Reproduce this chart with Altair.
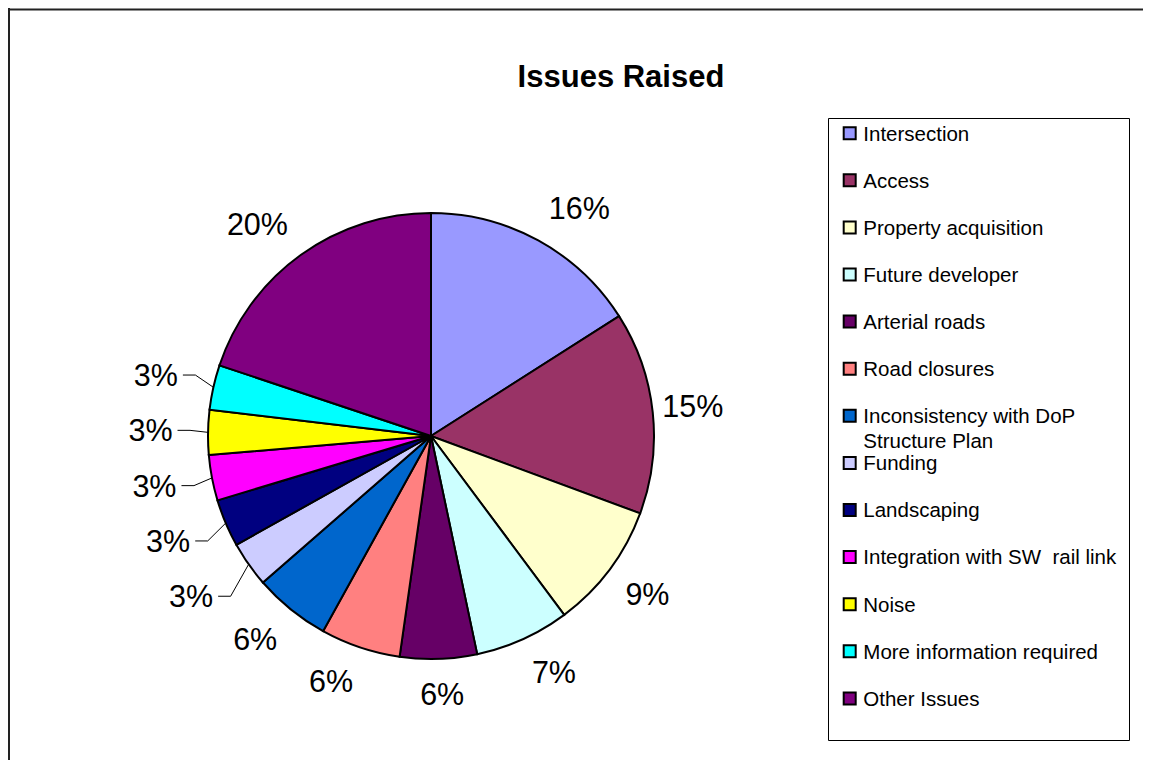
import math
import textwrap
import altair as alt
import pandas as pd

# ---------------- data ----------------
title_text = "Issues Raised"
categories = [
    "Intersection",
    "Access",
    "Property acquisition",
    "Future developer",
    "Arterial roads",
    "Road closures",
    "Inconsistency with DoP Structure Plan",
    "Funding",
    "Landscaping",
    "Integration with SW  rail link",
    "Noise",
    "More information required",
    "Other Issues",
]
shares = [15.97, 14.67, 9.17, 6.87, 5.57, 5.79, 5.55, 3.30, 3.45, 3.30, 3.24, 3.25, 19.87]
colors = [
    "#9999FF", "#993366", "#FFFFCC", "#CCFFFF", "#660066", "#FF8080", "#0066CC",
    "#CCCCFF", "#000080", "#FF00FF", "#FFFF00", "#00FFFF", "#800080",
]

# ---------------- layout constants (pixels inside the plot area) ----------------
W, H = 1135, 752
CX, CY = 423.0, 428.0        # pie centre
R = 223.0                    # pie radius
FONT = "Liberation Sans, Arial, Helvetica, sans-serif"
LABEL_FS = 30.5
LEGEND_FS = 20.5
LAB_R = 245.0                # anchor radius of ordinary labels
SMALL_R = 270.0              # natural radius of crowded labels
SMALL_GAP = 55.3             # vertical spacing of crowded labels
HALF_H = 13.0

xs = alt.Scale(domain=[-CX / R, (W - CX) / R], nice=False, zero=False)
ys = alt.Scale(domain=[-(H - CY) / R, CY / R], nice=False, zero=False)

def text_w(s, fs):
    widths = {"%": 0.889}
    return sum(widths.get(ch, 0.556) for ch in s) * fs

def clamp(v):
    return max(-1.0, min(1.0, v))

total = sum(shares)
rows = []
cum = 0.0
for i, (c, s) in enumerate(zip(categories, shares)):
    mid = (cum + s / 2) / total * 2 * math.pi
    cum += s
    rows.append(dict(idx=i, category=c, share=s, mid=mid,
                     pct=f"{round(s / total * 100)}%",
                     small=(s / total) < 0.04))
df = pd.DataFrame(rows)

# ordinary labels: corner of text box anchored just outside the pie
big_rows = []
for r in df[~df.small].itertuples():
    sx, cy_ = math.sin(r.mid), math.cos(r.mid)
    rr = LAB_R - 13.0 * sx ** 8
    ax, ay = rr * sx, -rr * cy_
    w = text_w(r.pct, LABEL_FS)
    px = ax + w / 2 * clamp(4 * sx)
    py = ay + HALF_H * clamp(-4 * cy_)
    big_rows.append(dict(category=r.category, pct=r.pct, lx=px / R, ly=-py / R))
big = pd.DataFrame(big_rows)

# crowded labels: spread vertically, with leader lines
sm = df[df.small].copy()
sm["nat"] = -SMALL_R * sm["mid"].apply(math.cos)
sm = sm.sort_values("nat").reset_index(drop=True)
n = len(sm)
mean_y = sm["nat"].mean()
small_rows, leader_rows = [], []
for j, r in sm.iterrows():
    y = mean_y + (j - (n - 1) / 2) * SMALL_GAP
    ex, ey = R * math.sin(r.mid), -R * math.cos(r.mid)
    right = ex - 35.5
    small_rows.append(dict(category=r.category, pct=r.pct, lx=right / R, ly=-y / R))
    for k, (qx, qy) in enumerate([(right + 5, y), (ex - 18, y), (ex, ey)]):
        leader_rows.append(dict(category=r.category, pt=k, lx=qx / R, ly=-qy / R))
small = pd.DataFrame(small_rows)
leaders = pd.DataFrame(leader_rows)

# legend entries
legend_df = pd.DataFrame({
    "category": categories,
    "text": ["\n".join(textwrap.wrap(c.replace("  ", "\u00a0 "), 30)) for c in categories],
})

color_scale = alt.Scale(domain=categories, range=colors)

# ---------------- layers ----------------
pie = alt.Chart(df).mark_arc(outerRadius=R, stroke="black", strokeWidth=2).encode(
    theta=alt.Theta("share:Q", stack=True),
    color=alt.Color("category:N", scale=color_scale, legend=None),
    order=alt.Order("idx:Q", sort="ascending"),
    x=alt.X(datum=0, scale=xs, axis=None),
    y=alt.Y(datum=0, scale=ys, axis=None),
)

big_text = alt.Chart(big).mark_text(
    font=FONT, fontSize=LABEL_FS, align="center", baseline="middle", dy=2, color="black"
).encode(
    x=alt.X("lx:Q", scale=xs, axis=None),
    y=alt.Y("ly:Q", scale=ys, axis=None),
    text="pct:N",
)

small_text = alt.Chart(small).mark_text(
    font=FONT, fontSize=LABEL_FS, align="right", baseline="middle", dy=2, color="black"
).encode(
    x=alt.X("lx:Q", scale=xs, axis=None),
    y=alt.Y("ly:Q", scale=ys, axis=None),
    text="pct:N",
)

leader_lines = alt.Chart(leaders).mark_line(color="black", strokeWidth=1).encode(
    x=alt.X("lx:Q", scale=xs, axis=None),
    y=alt.Y("ly:Q", scale=ys, axis=None),
    detail="category:N",
    order="pt:Q",
)

frame_df = pd.DataFrame({"k": [0]})
border_left = alt.Chart(frame_df).mark_rule(color="#222222", strokeWidth=2).encode(
    x=alt.value(1), y=alt.value(0), y2=alt.value(H)
)
border_top = alt.Chart(frame_df).mark_rule(color="#222222", strokeWidth=2).encode(
    x=alt.value(0), x2=alt.value(W), y=alt.value(1.5)
)

title = alt.Chart(pd.DataFrame({"t": [title_text]})).mark_text(
    font=FONT, fontSize=31, fontWeight="bold", align="center", baseline="middle", dy=2
).encode(x=alt.value(613), y=alt.value(68), text="t:N")

legend_box = alt.Chart(frame_df).mark_rect(
    fill="white", stroke="black", strokeWidth=1
).encode(x=alt.value(820.5), x2=alt.value(1121.5), y=alt.value(110.5), y2=alt.value(732.5))

legend_y = alt.Y("category:N", scale=alt.Scale(domain=categories, range=[125.2, 125.2 + 47.1 * 12], padding=0), axis=None)
legend_sw = alt.Chart(legend_df).mark_square(
    size=144, opacity=1, stroke="black", strokeWidth=2
).encode(
    x=alt.value(841.7),
    y=legend_y,
    color=alt.Color("category:N", scale=color_scale, legend=None),
)
legend_txt = alt.Chart(legend_df).mark_text(
    font=FONT, fontSize=LEGEND_FS, align="left", baseline="alphabetic", dy=7.3,
    lineBreak="\n", lineHeight=24.5, color="black"
).encode(
    x=alt.value(855.3),
    y=legend_y,
    text="text:N",
)

main = alt.layer(pie, leader_lines, big_text, small_text, border_left, border_top, title)
legend = alt.layer(legend_box, legend_sw, legend_txt)

chart = alt.layer(main, legend).resolve_scale(y="independent").properties(
    width=W, height=H, autosize=alt.AutoSizeParams(type="none"), padding=0
).configure_view(stroke="transparent", strokeWidth=0)

chart.save("out.html", embed_options={"renderer": "svg", "actions": False})
